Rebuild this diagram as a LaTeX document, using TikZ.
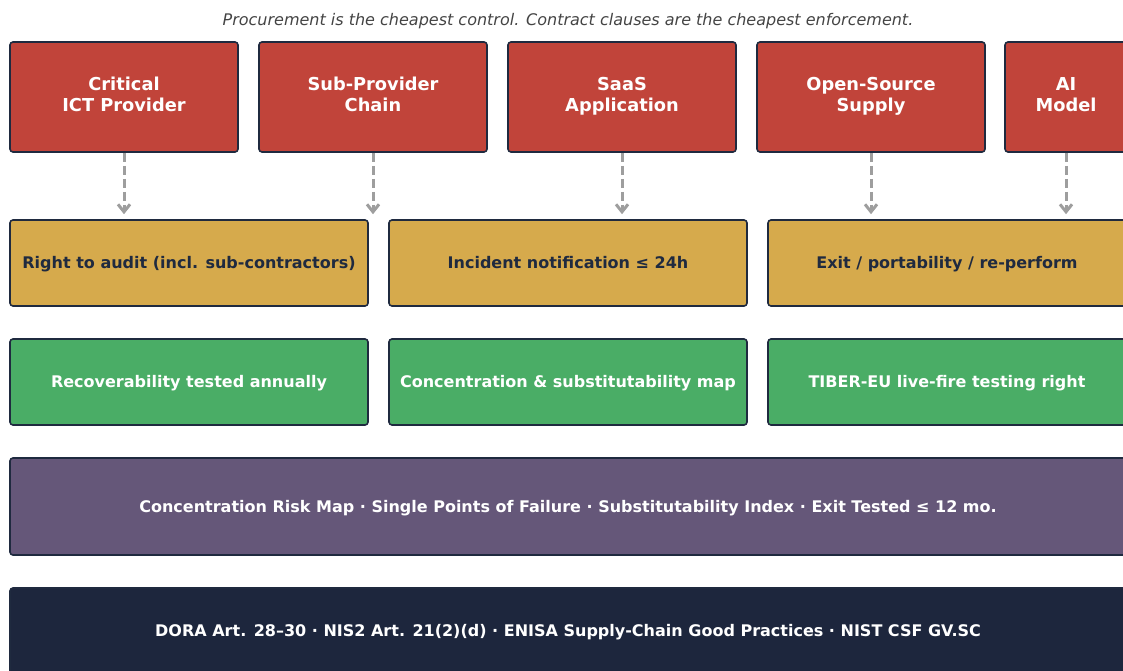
\documentclass[tikz,border=0pt]{standalone}
\usepackage{fontspec}
\setmainfont{DejaVu Sans}
\usetikzlibrary{arrows.meta}
\definecolor{riskred}{HTML}{C1443A}
\definecolor{clausegold}{HTML}{D6AA4C}
\definecolor{testgreen}{HTML}{4AAD66}
\definecolor{mapviolet}{HTML}{655779}
\definecolor{basenavy}{HTML}{1D263D}
\definecolor{edgeink}{HTML}{1F2A3F}
\definecolor{flowgray}{HTML}{9E9E9E}
\definecolor{notegray}{HTML}{444444}
\tikzset{
  card/.style={draw=edgeink, line width=1.6pt, rounded corners=3pt, inner sep=0pt,
    align=center},
  oneline/.style={font=\fontsize{16}{19}\selectfont\bfseries,
    text height=11.7pt, text depth=0pt},
  % two-line labels: the box baseline sits on the last line
  source/.style={card, fill=riskred, text=white, minimum height=110pt,
    font=\fontsize{17.8}{20.5}\selectfont\bfseries, text height=29pt, text depth=0pt},
  clause/.style={card, oneline, fill=clausegold, text=edgeink, minimum width=358pt,
    minimum height=86pt},
  control/.style={card, oneline, fill=testgreen, text=white, minimum width=358pt,
    minimum height=86pt},
  band/.style={card, oneline, text=white, minimum width=1116pt},
  flow/.style={draw=flowgray, line width=3pt, dash pattern=on 9pt off 4pt,
    -{Straight Barb[length=7.5pt,width=12pt,line width=3pt]}, shorten >=5pt}
}
\begin{document}
\begin{tikzpicture}[x=1pt,y=-1pt]
\useasboundingbox (0,0) rectangle (1123,671);
\clip (0,0) rectangle (1123,671);

% heading
\node[text=notegray, font=\fontsize{16}{19}\selectfont\itshape] (note) at (568,21)
  {Procurement is the cheapest control. Contract clauses are the cheapest enforcement.};

% supply-chain sources
\node[source, minimum width=228pt] (s1) at (124,97) {Critical\\ICT Provider};
\node[source, minimum width=228pt] (s2) at (373,97) {Sub-Provider\\Chain};
\node[source, minimum width=228pt] (s3) at (622,97) {SaaS\\Application};
\node[source, minimum width=228pt] (s4) at (871,97) {Open-Source\\Supply};
\node[source, minimum width=122pt] (s5) at (1066,97) {AI\\Model};

% contract clauses
\node[clause] (c1) at (189,263) {Right to audit (incl. sub-contractors)};
\node[clause] (c2) at (568,263) {Incident notification ≤ 24h};
\node[clause] (c3) at (947,263) {Exit / portability / re-perform};

% verification controls
\node[control] (v1) at (189,382) {Recoverability tested annually};
\node[control] (v2) at (568,382) {Concentration \& substitutability map};
\node[control] (v3) at (947,382) {TIBER-EU live-fire testing right};

% summary bands
\node[band, fill=mapviolet, minimum height=97pt] (risk) at (568,506.5)
  {Concentration Risk Map · Single Points of Failure · Substitutability Index · Exit Tested ≤ 12 mo.};
\node[band, fill=basenavy, minimum height=86pt] (regs) at (568,631)
  {DORA Art. 28–30 · NIS2 Art. 21(2)(d) · ENISA Supply-Chain Good Practices · NIST CSF GV.SC};

% sources feed the clause row
\draw[flow] (s1.south) -- (s1.south |- c1.north);
\draw[flow] (s2.south) -- (s2.south |- c1.north);
\draw[flow] (s3.south) -- (s3.south |- c2.north);
\draw[flow] (s4.south) -- (s4.south |- c3.north);
\draw[flow] (s5.south) -- (s5.south |- c3.north);
\end{tikzpicture}
\end{document}
